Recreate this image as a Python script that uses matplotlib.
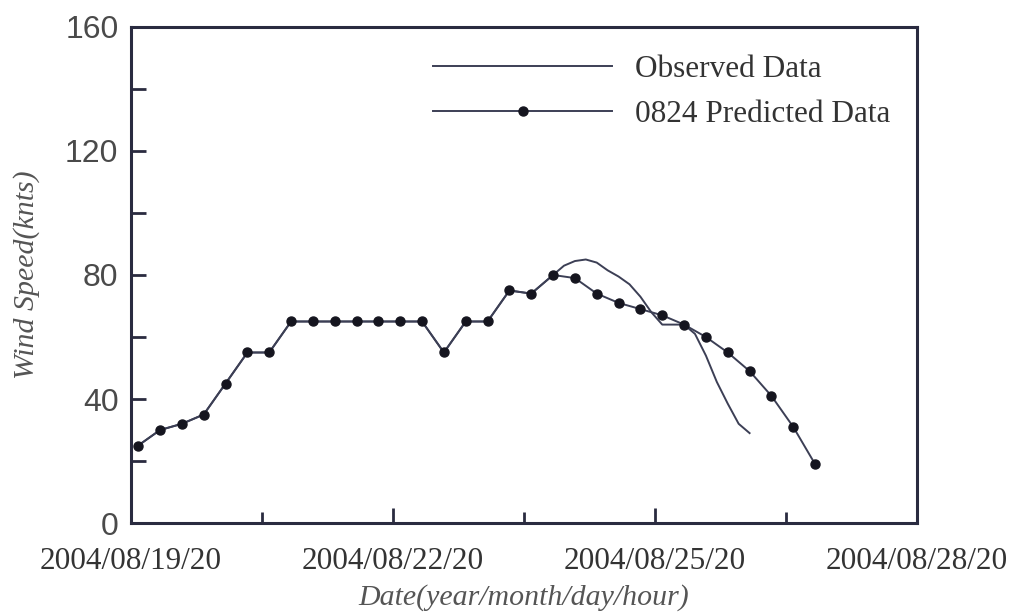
import matplotlib
matplotlib.use('Agg')
import matplotlib.pyplot as plt
from matplotlib.ticker import MultipleLocator

# hours after 2004/08/19/20
pred_hours = [2, 8, 14, 20, 26, 32, 38, 44, 50, 56, 62, 68, 74, 80, 86, 92,
              98, 104, 110, 116, 122, 128, 134, 140, 146, 152, 158, 164, 170, 176, 182, 188]
pred_speed = [25, 30, 32, 35, 45, 55, 55, 65, 65, 65, 65, 65, 65, 65, 55, 65,
              65, 75, 74, 80, 79, 74, 71, 69, 67, 64, 60, 55, 49, 41, 31, 19]

obs_hours = [2, 8, 14, 20, 26, 32, 38, 44, 50, 56, 62, 68, 74, 80, 86, 92, 98, 104, 110,
             116, 119, 122, 125, 128, 131, 134, 137, 140, 143, 146, 149, 152, 155, 158,
             161, 164, 167, 170]
obs_speed = [25, 30, 32, 35, 45, 55, 55, 65, 65, 65, 65, 65, 65, 65, 55, 65, 65, 75, 74,
             80, 83, 84.5, 85, 84, 81.5, 79.5, 77, 73, 68, 64, 64, 64, 61, 54,
             45.5, 38.5, 32, 29]

x_tick_hours = [0, 72, 144, 216]
x_tick_labels = ['2004/08/19/20', '2004/08/22/20', '2004/08/25/20', '2004/08/28/20']
y_ticks = [0, 40, 80, 120, 160]

line_col = '#3c3f55'
spine_col = '#2a2b40'

fig = plt.figure(figsize=(10.12, 6.13), dpi=100)
ax = fig.add_axes([0.1294, 0.1468, 0.7767, 0.8092])

ax.plot(obs_hours, obs_speed, color=line_col, lw=1.4, label='Observed Data')
ax.plot(pred_hours, pred_speed, color=line_col, lw=1.4, marker='o', ms=6.5,
        mfc='#15151f', mec='#15151f', label='0824 Predicted Data')

ax.set_xlim(0, 216)
ax.set_ylim(0, 160)
ax.set_xticks(x_tick_hours)
ax.set_xticklabels(x_tick_labels, family='Liberation Serif', fontsize=22.5, color='#333333')
ax.xaxis.set_minor_locator(MultipleLocator(36))
ax.set_yticks(y_ticks)
ax.set_yticklabels([str(v) for v in y_ticks], family='Liberation Sans', fontsize=23, color='#4a4a4a')
ax.yaxis.set_minor_locator(MultipleLocator(20))

ax.tick_params(axis='x', which='major', direction='in', length=11, width=2, color=spine_col, pad=17)
ax.tick_params(axis='x', which='minor', direction='in', length=8, width=2, color=spine_col)
ax.tick_params(axis='y', which='both', direction='in', length=11, width=2, color=spine_col, pad=9)

for s in ax.spines.values():
    s.set_color(spine_col)
    s.set_linewidth(2.2)

ax.set_xlabel('Date(year/month/day/hour)', family='Liberation Serif', style='italic',
              fontsize=21.5, color='#555555', labelpad=6)
ax.set_ylabel('Wind Speed(knts)', family='Liberation Serif', style='italic',
              fontsize=21.5, color='#555555', labelpad=18)

leg = ax.legend(loc='upper right', frameon=False, numpoints=1, handlelength=5.7,
                handletextpad=0.75, labelspacing=0.5,
                prop={'family': 'Liberation Serif', 'size': 22.5},
                bbox_to_anchor=(1.002, 1.0))
for t in leg.get_texts():
    t.set_color('#333333')

fig.savefig('out.png', dpi=100)
